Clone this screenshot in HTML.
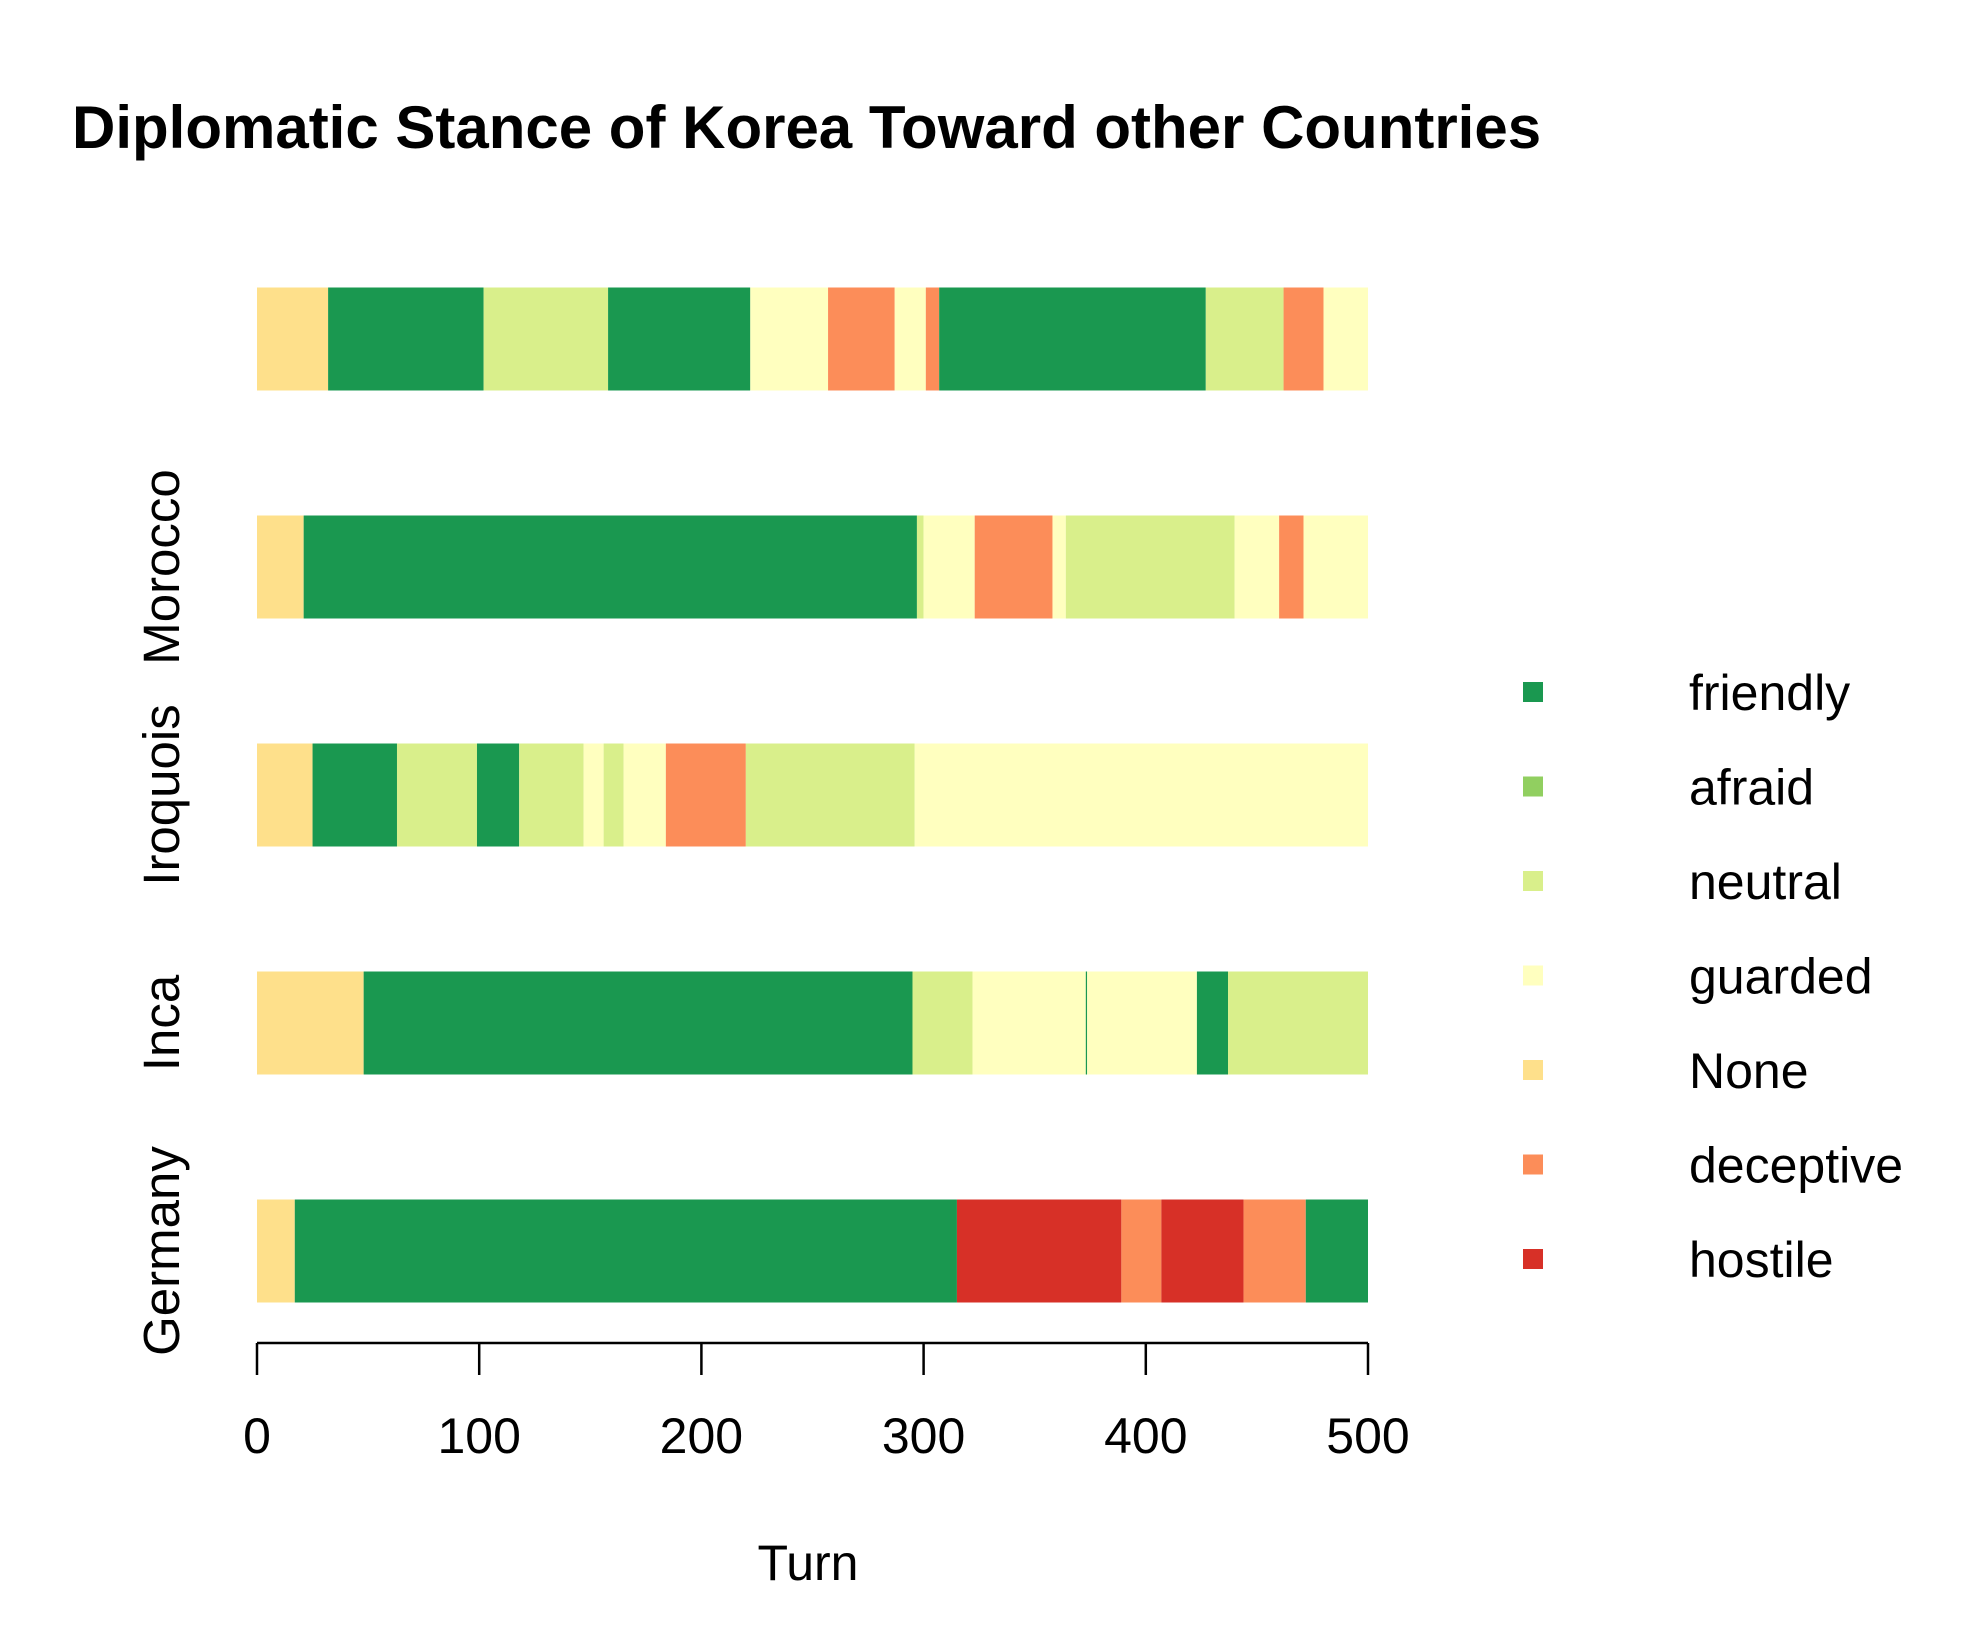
<!DOCTYPE html>
<html><head><meta charset="utf-8"><style>
html,body{margin:0;padding:0;background:#fff;}
svg{display:block;font-family:"Liberation Sans",Arial,sans-serif;}
</style></head><body>
<svg id="chart" width="1974" height="1650" viewBox="0 0 1974 1650" xmlns="http://www.w3.org/2000/svg">
<text x="72" y="148" font-size="60" font-weight="bold">Diplomatic Stance of Korea Toward other Countries</text>
<g id="bars"></g>
<g id="axis"></g>
<g id="ylabels"></g>
<g id="legend"></g>
<text x="808" y="1580" font-size="50" text-anchor="middle">Turn</text>
</svg>
<script>
const countries = ["", "Morocco", "Iroquois", "Inca", "Germany"];
const rowCenters = [339, 567, 795, 1023, 1251];
const stances = ["friendly","afraid","neutral","guarded","None","deceptive","hostile"];
const stanceColors = ["#1A9850","#91CF60","#D9EF8B","#FFFFBF","#FEE08B","#FC8D59","#D73027"];
const seg0 = [[0,32,"None"],[32,102,"friendly"],[102,158,"neutral"],[158,222,"friendly"],[222,257,"guarded"],[257,287,"deceptive"],[287,301,"guarded"],[301,307,"deceptive"],[307,427,"friendly"],[427,462,"neutral"],[462,480,"deceptive"],[480,500,"guarded"]];
const seg1 = [[0,21,"None"],[21,297,"friendly"],[297,300,"neutral"],[300,323,"guarded"],[323,358,"deceptive"],[358,364,"guarded"],[364,440,"neutral"],[440,460,"guarded"],[460,471,"deceptive"],[471,500,"guarded"]];
const seg2 = [[0,25,"None"],[25,63,"friendly"],[63,99,"neutral"],[99,118,"friendly"],[118,147,"neutral"],[147,156,"guarded"],[156,165,"neutral"],[165,184,"guarded"],[184,220,"deceptive"],[220,296,"neutral"],[296,500,"guarded"]];
const seg3 = [[0,48,"None"],[48,295,"friendly"],[295,322,"neutral"],[322,373,"guarded"],[373,373.6,"friendly"],[373.6,423,"guarded"],[423,437,"friendly"],[437,500,"neutral"]];
const seg4 = [[0,17,"None"],[17,315,"friendly"],[315,389,"hostile"],[389,407,"deceptive"],[407,444,"hostile"],[444,472,"deceptive"],[472,500,"friendly"]];
const xTicks = [0,100,200,300,400,500];

const NS="http://www.w3.org/2000/svg";
const x0=257, x1=1368, xMin=0, xMax=500;
const xs = v => x0 + (v-xMin)/(xMax-xMin)*(x1-x0);
const barH = 103;
const axisY = 1343;
const allSegs=[seg0,seg1,seg2,seg3,seg4];
const bars=document.getElementById('bars');
allSegs.forEach((segs,ri)=>{
  segs.forEach(s=>{
    const r=document.createElementNS(NS,'rect');
    r.setAttribute('x',xs(s[0]));
    r.setAttribute('width',Math.max(1,xs(s[1])-xs(s[0])));
    r.setAttribute('y',rowCenters[ri]-barH/2);
    r.setAttribute('height',barH);
    r.setAttribute('fill',stanceColors[stances.indexOf(s[2])]);
    
    
    bars.appendChild(r);
  });
});
const axis=document.getElementById('axis');
const line=document.createElementNS(NS,'line');
line.setAttribute('x1',xs(xTicks[0]));line.setAttribute('x2',xs(xTicks[xTicks.length-1]));
line.setAttribute('y1',axisY);line.setAttribute('y2',axisY);
line.setAttribute('stroke','#000');line.setAttribute('stroke-width',2.5);


axis.appendChild(line);
xTicks.forEach(t=>{
  const l=document.createElementNS(NS,'line');
  l.setAttribute('x1',xs(t));l.setAttribute('x2',xs(t));
  l.setAttribute('y1',axisY);l.setAttribute('y2',axisY+32);
  l.setAttribute('stroke','#000');l.setAttribute('stroke-width',2.5);
  
  
  axis.appendChild(l);
  const tx=document.createElementNS(NS,'text');
  tx.setAttribute('x',xs(t));tx.setAttribute('y',1453);
  tx.setAttribute('font-size',50);tx.setAttribute('text-anchor','middle');
  tx.textContent=t;
  
  
  axis.appendChild(tx);
});
const yl=document.getElementById('ylabels');
countries.forEach((c,i)=>{
  if(!c) return;
  const tx=document.createElementNS(NS,'text');
  tx.setAttribute('transform','translate(179,'+rowCenters[i]+') rotate(-90)');
  tx.setAttribute('font-size',51);tx.setAttribute('text-anchor','middle');
  tx.textContent=c;
  
  
  yl.appendChild(tx);
});
const lg=document.getElementById('legend');
stances.forEach((s,i)=>{
  const y=692+i*94.5;
  const r=document.createElementNS(NS,'rect');
  r.setAttribute('x',1523);r.setAttribute('y',y-10);r.setAttribute('width',20);r.setAttribute('height',20);
  r.setAttribute('fill',stanceColors[i]);
  
  
  lg.appendChild(r);
  const tx=document.createElementNS(NS,'text');
  tx.setAttribute('x',1689);tx.setAttribute('y',y+18);tx.setAttribute('font-size',50);
  tx.textContent=s;
  
  
  lg.appendChild(tx);
});
</script>
</body></html>
